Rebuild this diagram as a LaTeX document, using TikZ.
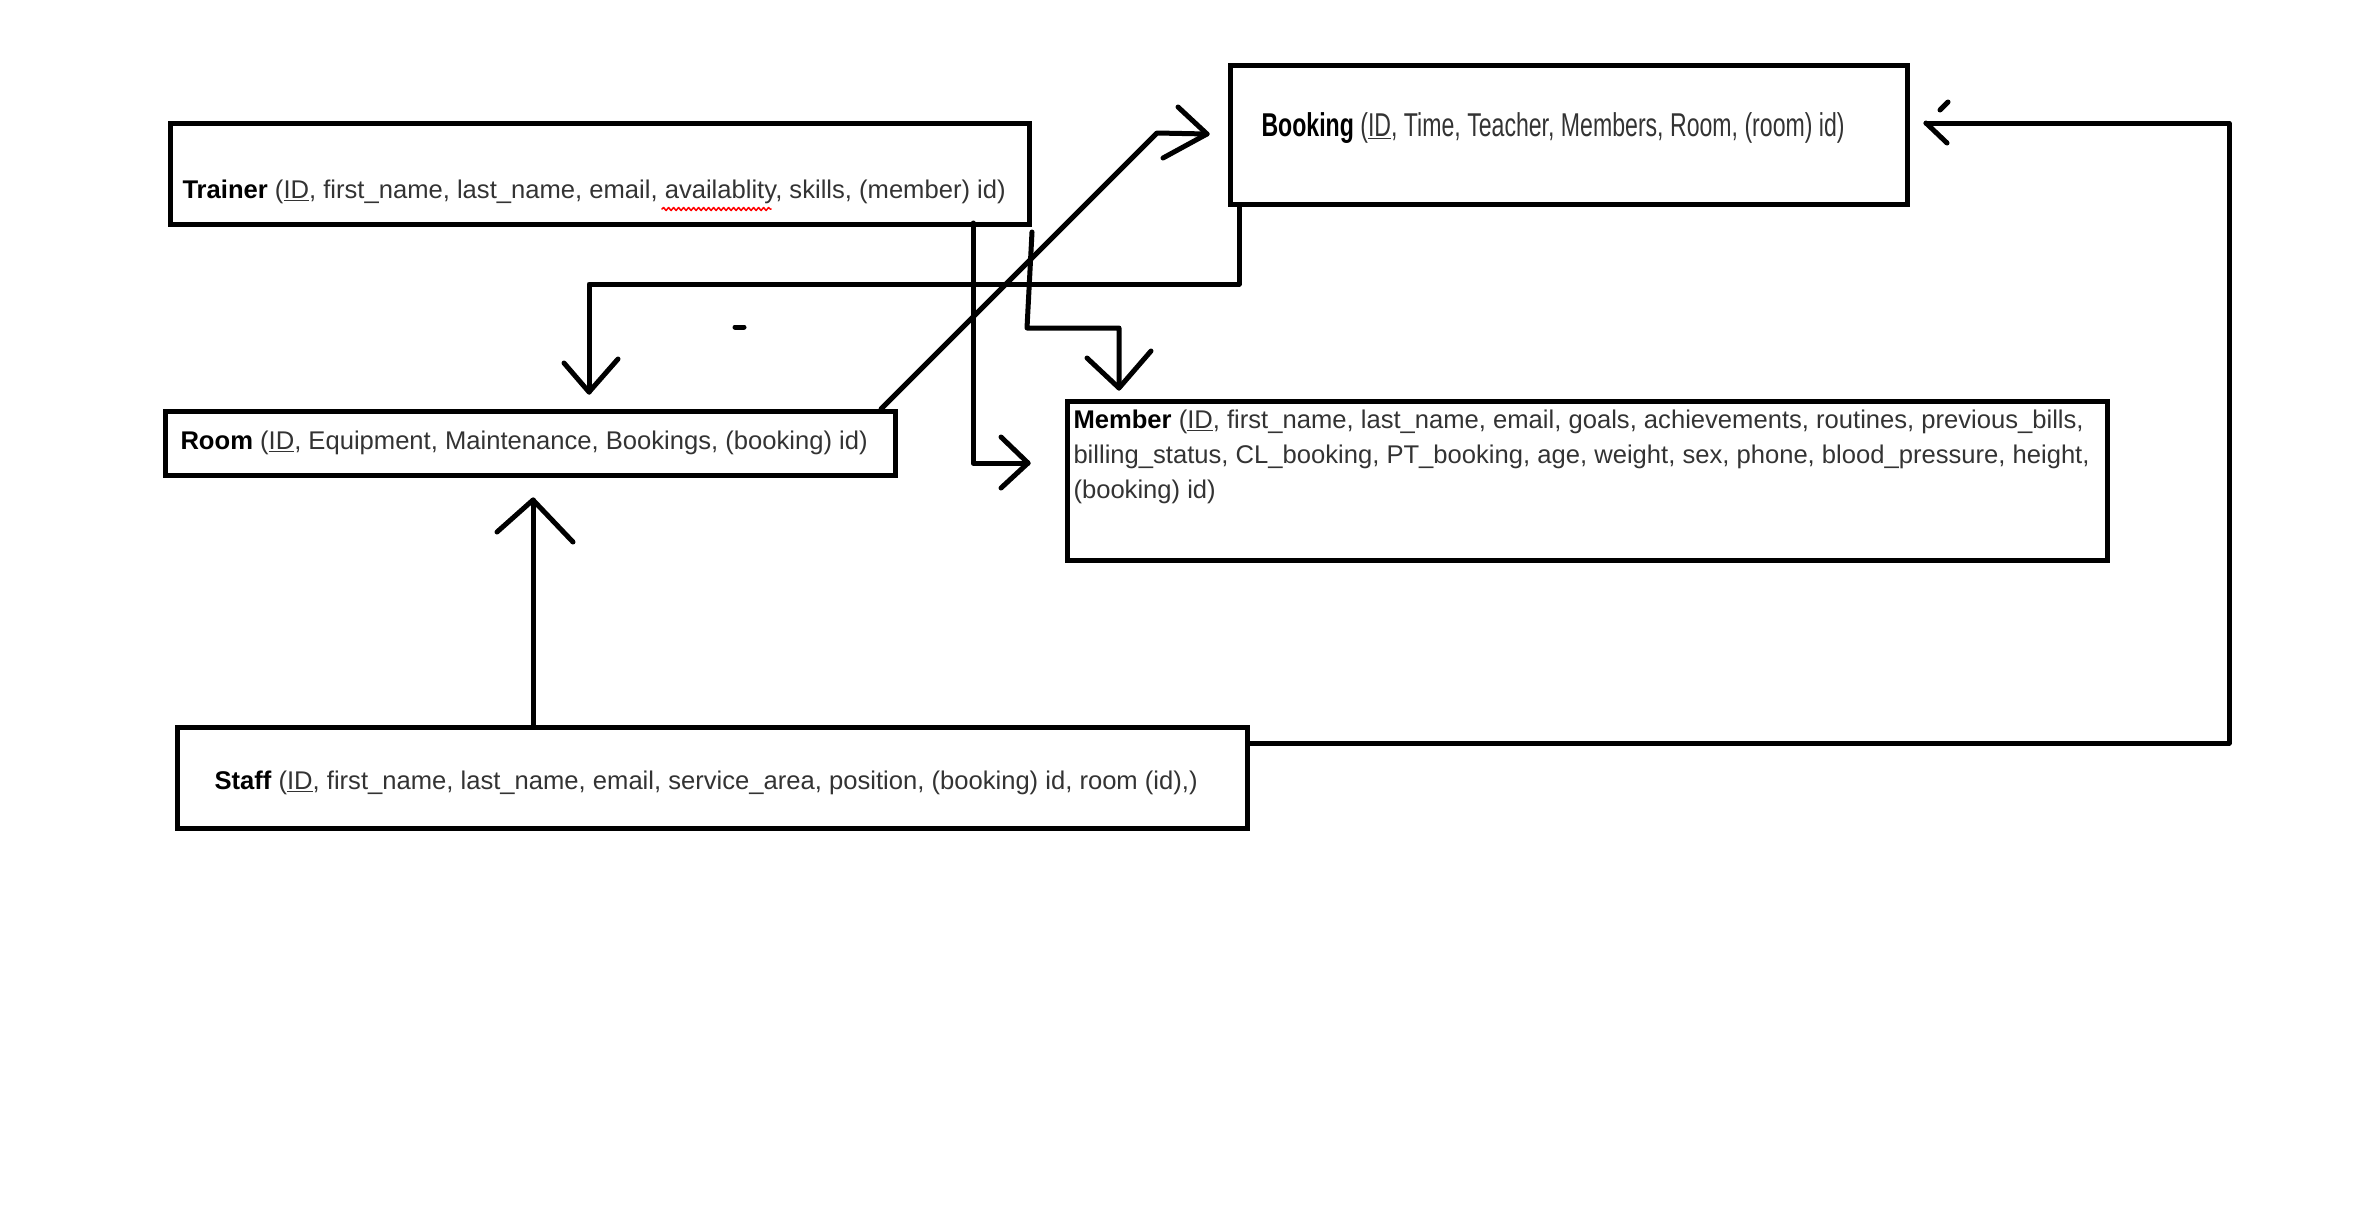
\documentclass[tikz,border=0pt]{standalone}
\usepackage{fontspec}
\setmainfont{Liberation Sans}
\newfontfamily\narrowsans[FakeStretch=0.7]{Liberation Sans}
\usetikzlibrary{decorations.pathmorphing}

\begin{document}
\begin{tikzpicture}[x=1pt,y=-1pt,line join=round,line cap=round,line width=5pt]
	\tikzset{table/.style={draw,line width=5pt,line join=miter,anchor=north west,inner sep=0pt},
		attrs/.style={anchor=west,inner sep=0pt,text=black!80,font=\fontsize{25.6}{35}\selectfont}}
	\useasboundingbox (0,0) rectangle (2369,1208);
	% tables
	\node[table,minimum width=859,minimum height=101] (trainer) at (168,121) {};
	\node[table,minimum width=677,minimum height=139] (booking) at (1228,63) {};
	\node[table,minimum width=730,minimum height=64] (room) at (163,409) {};
	\node[table,minimum width=1040,minimum height=159] (member) at (1065,399) {};
	\node[table,minimum width=1070,minimum height=101] (staff) at (175,725) {};
	% attributes
	\node[attrs] (trainertxt) at (180,192) {\textcolor{black}{\textbf{Trainer}} (\underline{ID}, first\_name, last\_name, email, availablity, skills, (member) id)};
	\node[attrs,font=\narrowsans\fontsize{33}{40}\selectfont] (bookingtxt) at (1259,128) {\textcolor{black}{\textbf{Booking}} (\underline{ID}, Time, Teacher, Members, Room, (room) id)};
	\node[attrs] (roomtxt) at (178,443) {\textcolor{black}{\textbf{Room}} (\underline{ID}, Equipment, Maintenance, Bookings, (booking) id)};
	\node[attrs,align=left] (membertxt) at (1071,457) {\textcolor{black}{\textbf{Member}} (\underline{ID}, first\_name, last\_name, email, goals, achievements, routines, previous\_bills,\\
		billing\_status, CL\_booking, PT\_booking, age, weight, sex, phone, blood\_pressure, height,\\
		(booking) id)};
	\node[attrs] (stafftxt) at (212,783) {\textcolor{black}{\textbf{Staff}} (\underline{ID}, first\_name, last\_name, email, service\_area, position, (booking) id, room (id),)};
	% spelling squiggle
	\draw[red,line width=1.5pt,decorate,decoration={snake,amplitude=1.5pt,segment length=5pt}] (662,209) -- (771,209);
	% arrow tips
	\coordinate (tipA) at (1207,134);
	\coordinate (tipB) at (589,392);
	\coordinate (tipC) at (1028,463);
	\coordinate (tipD) at (1119,388);
	\coordinate (tipE) at (533,500);
	\coordinate (tipF) at (1926,123);
	% links
	\draw ([xshift=-17pt]room.north east) -- (1157,133) -- (tipA);
	\draw ([xshift=11pt]booking.south west) -- ++(0,77) -| (tipB);
	\draw ([xshift=-59pt,yshift=4pt]trainer.south east) |- (tipC);
	\draw ([yshift=-5pt]trainer.south east) -- (1027,328) -| (tipD);
	\draw ([xshift=358pt]staff.north west) -- (tipE);
	\draw ([yshift=-18pt]staff.north east) -- ++(979,0) |- (tipF);
	\foreach \t/\ax/\ay/\bx/\by in {tipA/-29/-27/-44/24, tipB/-25/-29/29/-33, tipC/-27/-26/-27/25, tipD/-32/-30/32/-37, tipE/-36/32/40/42}
	\draw (\t) -- ++(\ax,\ay) (\t) -- ++(\bx,\by);
	\draw (tipF) -- ++(21,20);
	\draw (1940,110) -- (1948,102);
	\draw (735,327) -- (744,327);
\end{tikzpicture}
\end{document}
